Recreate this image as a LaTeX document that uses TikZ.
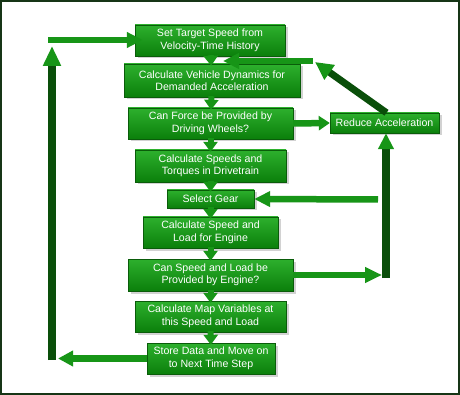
\documentclass[tikz,border=0pt]{standalone}
\usepackage{fontspec}
\newfontfamily\arialfont{Liberation Sans}
\usetikzlibrary{arrows.meta,shadows}

\definecolor{boxtop}{HTML}{2DB02D}
\definecolor{boxbot}{HTML}{0B7F0B}
\definecolor{boxedge}{HTML}{0A5C0A}
\definecolor{flowgreen}{HTML}{179517}
\definecolor{bargreen}{HTML}{0A4F0A}
\definecolor{framegreen}{HTML}{163516}

\begin{document}
\begin{tikzpicture}[
      x=1pt, y=-1pt,
      font=\arialfont\fontsize{10.6}{12.5}\selectfont,
      box/.style={draw=boxedge, top color=boxtop, bottom color=boxbot,
                  text=white, align=center, inner sep=1pt,
                  drop shadow={shadow xshift=2.5pt, shadow yshift=-2.5pt,
                               fill=black!35}},
      down/.style={line width=6pt, draw=flowgreen,
                   -{Triangle[length=10pt, width=14pt, color=flowgreen]},
                   shorten <=-1pt, shorten >=-2pt},
      flow/.style={line width=6.5pt, draw=flowgreen,
                   -{Triangle[length=16pt, width=15pt, color=flowgreen]}},
      bar/.style={line width=7.5pt, draw=bargreen}
    ]
    \useasboundingbox (0,0) rectangle (460,395);
    \fill[white] (0,0) rectangle (460,395);
    \draw[framegreen, line width=2pt] (1,1) rectangle (459,394);

    % --- Main sequence of steps -----------------------------------------------
    \node[box, minimum width=150pt, minimum height=31pt] (target) at (210,40.5)
      {Set Target Speed from\\Velocity-Time History};
    \node[box, minimum width=176pt, minimum height=33pt] (dyn)    at (212,80.5)
      {Calculate Vehicle Dynamics for\\Demanded Acceleration};
    \node[box, minimum width=165pt, minimum height=31pt] (force)  at (210.5,123.5)
      {Can Force be Provided by\\Driving Wheels?};
    \node[box, minimum width=151pt, minimum height=32pt] (torque) at (210.5,166)
      {Calculate Speeds and\\Torques in Drivetrain};
    \node[box, minimum width=87pt,  minimum height=18pt] (gear)   at (210.5,199)
      {Select Gear};
    \node[box, minimum width=135pt, minimum height=31pt] (load)   at (210.5,232.5)
      {Calculate Speed and\\Load for Engine};
    \node[box, minimum width=165pt, minimum height=32pt] (engine) at (210.5,275)
      {Can Speed and Load be\\Provided by Engine?};
    \node[box, minimum width=151pt, minimum height=31pt] (mapvar) at (210.5,316.5)
      {Calculate Map Variables at\\this Speed and Load};
    \node[box, minimum width=128pt, minimum height=31pt] (store)  at (211,358.5)
      {Store Data and Move on\\to Next Time Step};

    \node[box, minimum width=109pt, minimum height=20pt] (reduce) at (384.5,123)
      {Reduce Acceleration};

    \draw[down] (target) -- (dyn);
    \draw[down] (dyn) -- (force);
    \draw[down] (force) -- (torque);
    \draw[down] (torque) -- (gear);
    \draw[down] (gear) -- (load);
    \draw[down] (load) -- (engine);
    \draw[down] (engine) -- (mapvar);
    \draw[down] (mapvar) -- (store);

    % Loop back to the next time step.
    \coordinate (lbot)   at (52,360);
    \coordinate (ltop)   at (52,46);
    \coordinate (lstart) at (48,40);
    \draw[flow, -{Triangle[length=15pt, width=15pt, color=flowgreen]}]
      (store.west) -- (store.west -| 58,0);
    \draw[bar, -{Triangle[length=20pt, width=17pt, color=flowgreen]}]
      (lbot) -- (ltop);
    \draw[flow, shorten >=-8pt] (lstart) -- (target.west |- lstart);

    % Reduced demand goes back into the dynamics step.
    \coordinate (retR) at (313,61);
    \coordinate (retL) at (223,61);
    \coordinate (rbot) at (386,278);
    \coordinate (rjoin) at (382,275);
    \coordinate (gearin) at (378,199.5);
    \draw[flow, -{Triangle[length=11pt, width=14pt, color=flowgreen]}]
      (force.east) -- (reduce.west);
    \draw[line width=7pt, draw=bargreen,
          -{Triangle[length=18pt, width=17pt, color=flowgreen]}]
      ([xshift=2pt]reduce.north) -- (315,62);
    \draw[flow] (retR) -- (retL);
    \draw[bar, -{Triangle[length=16pt, width=15pt, color=flowgreen]}]
      (rbot) -- (rbot |- reduce.south);
    \draw[flow, -{Triangle[length=17pt, width=15pt, color=flowgreen]}]
      (engine.east) -- (engine.east -| rjoin);
    \draw[flow] (gearin) -- (gear.east);
  \end{tikzpicture}
\end{document}
